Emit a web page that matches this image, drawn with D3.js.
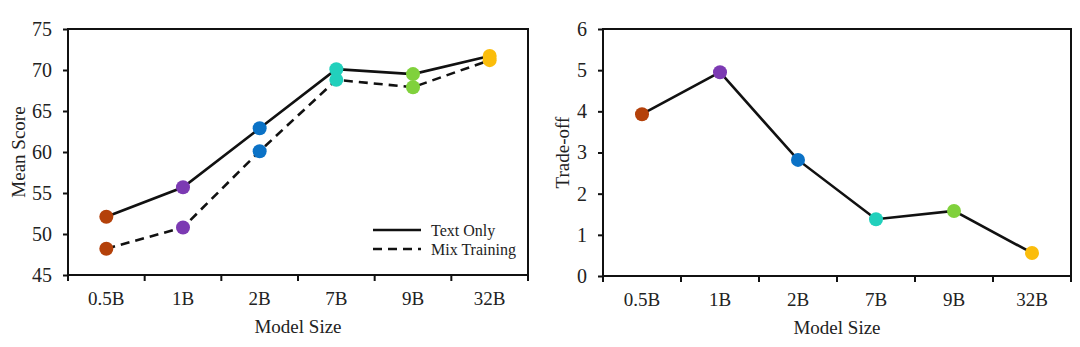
<!DOCTYPE html>
<html>
<head>
<meta charset="utf-8">
<script src="https://cdn.jsdelivr.net/npm/d3@7"></script>
<style>
  html, body { margin: 0; padding: 0; background: #fff; }
  svg { display: block; }
  text { font-family: "Liberation Serif", "Times New Roman", serif; fill: #222; }
</style>
</head>
<body>
<svg id="chart" width="1080" height="347"></svg>
<script>
// Model sizes shared by both panels
const modelSizes = ["0.5B", "1B", "2B", "7B", "9B", "32B"];
const sizeColors = ["#b4410a", "#7c3ab3", "#0b72c6", "#22d0bc", "#80d13c", "#fbbd0b"];

// Left panel: mean score per training setup
const textOnly = [52.1, 55.7, 62.9, 70.1, 69.5, 71.7];
const mixTraining = [48.2, 50.8, 60.1, 68.8, 67.9, 71.2];
const scoreTicks = [45, 50, 55, 60, 65, 70, 75];

// Right panel: trade-off per model size
const tradeOff = [3.93, 4.95, 2.82, 1.38, 1.58, 0.56];
const tradeTicks = [0, 1, 2, 3, 4, 5, 6];

const svg = d3.select("#chart");

function panel(opts) {
  const g = svg.append("g");
  const x = d3.scaleBand().domain(modelSizes).range([opts.x0, opts.x1]).padding(0);
  const y = d3.scaleLinear().domain(opts.yDomain).range([opts.y1, opts.y0]);
  const cx = d => x(d) + x.bandwidth() / 2;

  // frame
  g.append("rect")
    .attr("x", opts.x0).attr("y", opts.y0)
    .attr("width", opts.x1 - opts.x0).attr("height", opts.y1 - opts.y0)
    .attr("fill", "none").attr("stroke", "#111").attr("stroke-width", 2);

  // y axis
  const ya = g.append("g").attr("transform", `translate(${opts.x0},0)`)
    .call(d3.axisLeft(y).tickValues(opts.yTicks).tickSize(5).tickPadding(11).tickFormat(d3.format("d")));
  ya.select(".domain").remove();
  ya.selectAll(".tick line").attr("stroke", "#111").attr("stroke-width", 2);
  ya.selectAll(".tick text").style("font-size", "20px").attr("fill", "#222")
    .style("font-family", "Liberation Serif, serif");

  // x axis: ticks on band boundaries, labels at band centres
  const boundaries = modelSizes.map(d => x(d)).concat([opts.x1]);
  g.selectAll(".xt").data(boundaries).join("line")
    .attr("x1", d => d).attr("x2", d => d)
    .attr("y1", opts.y1).attr("y2", opts.y1 + 6)
    .attr("stroke", "#111").attr("stroke-width", 2);
  g.selectAll(".xl").data(modelSizes).join("text")
    .attr("x", d => cx(d)).attr("y", opts.y1 + 30)
    .attr("text-anchor", "middle").style("font-size", "19px")
    .text(d => d);

  // axis titles
  g.append("text")
    .attr("x", (opts.x0 + opts.x1) / 2).attr("y", opts.y1 + 58)
    .attr("text-anchor", "middle").style("font-size", "19px")
    .text("Model Size");
  g.append("text")
    .attr("transform", `translate(${opts.yTitleX},${(opts.y0 + opts.y1) / 2}) rotate(-90)`)
    .attr("text-anchor", "middle").attr("dominant-baseline", "central")
    .style("font-size", "19px")
    .text(opts.yTitle);

  // series lines
  opts.series.forEach(s => {
    const line = d3.line().x((v, i) => cx(modelSizes[i])).y(v => y(v));
    g.append("path").datum(s.values)
      .attr("d", line).attr("fill", "none")
      .attr("stroke", "#111").attr("stroke-width", 2.6)
      .attr("stroke-dasharray", s.dash || null);
  });
  // markers on top
  opts.series.forEach(s => {
    g.selectAll(null).data(s.values).join("circle")
      .attr("cx", (v, i) => cx(modelSizes[i])).attr("cy", v => y(v))
      .attr("r", 7).attr("fill", (v, i) => sizeColors[i]);
  });
  return { g, x, y };
}

const left = panel({
  x0: 68, x1: 528, y0: 29, y1: 275,
  yDomain: [45, 75], yTicks: scoreTicks,
  yTitle: "Mean Score", yTitleX: 18,
  series: [
    { name: "Mix Training", values: mixTraining, dash: "9,6" },
    { name: "Text Only", values: textOnly }
  ]
});

panel({
  x0: 603, x1: 1071, y0: 29, y1: 276,
  yDomain: [0, 6], yTicks: tradeTicks,
  yTitle: "Trade-off", yTitleX: 562,
  series: [{ name: "Trade-off", values: tradeOff }]
});

// legend for the left panel
const legendItems = [
  { label: "Text Only", dash: null },
  { label: "Mix Training", dash: "9,6" }
];
const lg = left.g.append("g").attr("transform", "translate(373,230)");
legendItems.forEach((d, i) => {
  const row = lg.append("g").attr("transform", `translate(0,${i * 19})`);
  row.append("line").attr("x1", 0).attr("x2", 48).attr("y1", 0).attr("y2", 0)
    .attr("stroke", "#111").attr("stroke-width", 2.4)
    .attr("stroke-dasharray", d.dash);
  row.append("text").attr("x", 58).attr("y", 0)
    .attr("dominant-baseline", "central").style("font-size", "16px")
    .text(d.label);
});
</script>
</body>
</html>
